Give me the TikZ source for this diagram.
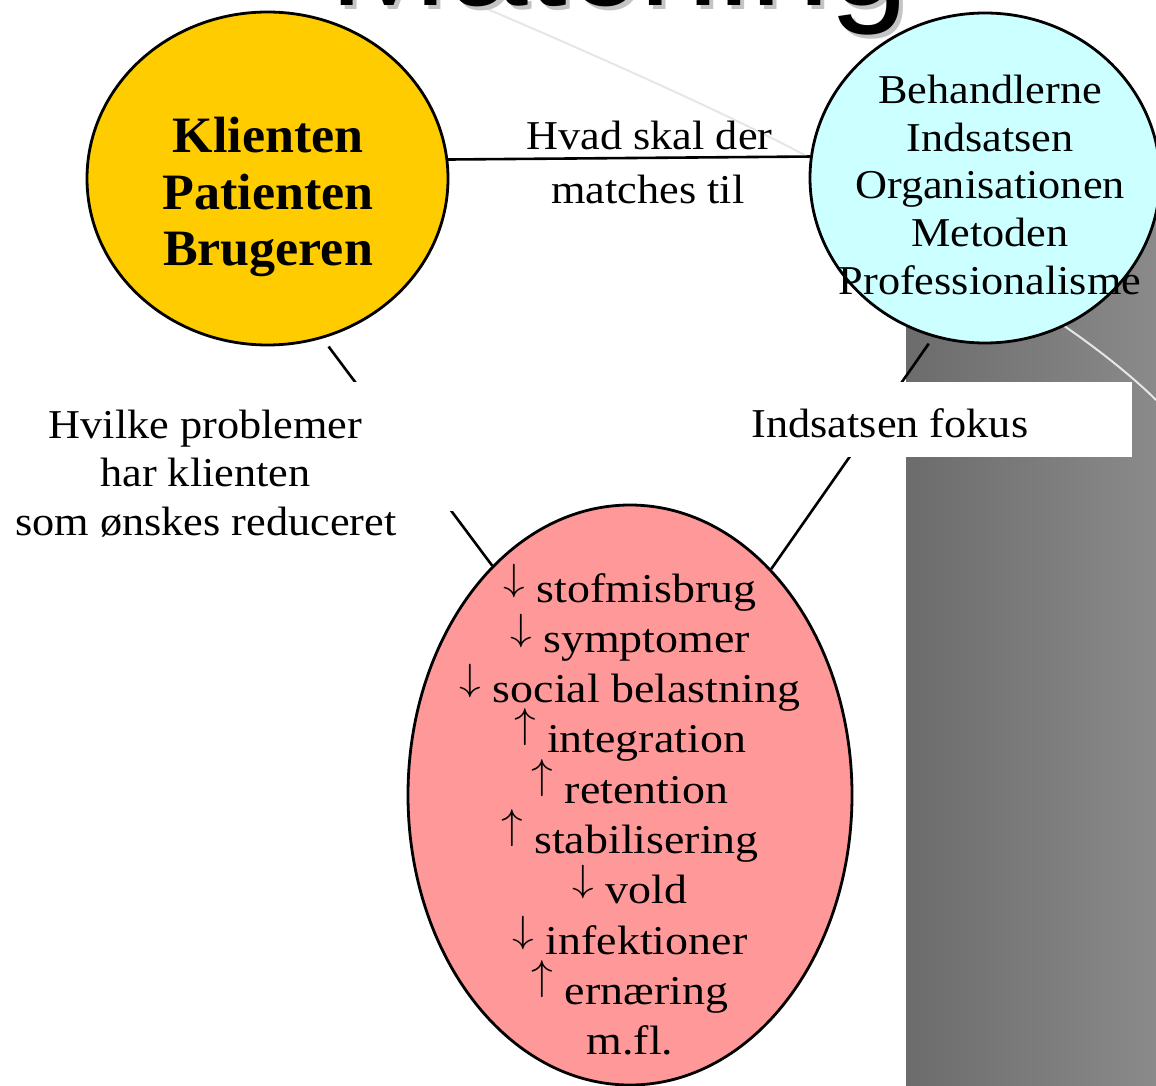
\documentclass[tikz,border=0pt]{standalone}
\usepackage{fontspec}
\setmainfont{Liberation Serif}
\newfontfamily\titlefont{Liberation Sans}
\usepackage{graphicx}
\usetikzlibrary{shapes.geometric}
\definecolor{yel}{HTML}{FFCC00}
\definecolor{cyn}{HTML}{CCFFFF}
\definecolor{pnk}{HTML}{FF9999}
\definecolor{gdark}{HTML}{6C6C6C}
\definecolor{glight}{HTML}{8A8A8A}
\definecolor{arcgray}{HTML}{E6E6E6}
\definecolor{shadowgray}{HTML}{C4C4C4}
\newcommand\xs[2]{\scalebox{#1}[1]{#2}}
\newcommand\arrDn{\raisebox{12pt}{\scalebox{1.55}[1.52]{\fontsize{24.88}{25}\selectfont$\downarrow$}}}
\newcommand\arrUp{\raisebox{15pt}{\scalebox{1.55}[1.68]{\fontsize{24.88}{25}\selectfont$\uparrow$}}}
\begin{document}
\begin{tikzpicture}[x=1pt,y=-1pt,
  circ/.style={ellipse, draw=black, line width=2.8pt, inner sep=0pt},
  conn/.style={line width=2.6pt},
  mask/.style={fill=white, draw=none, inner sep=0pt},
  txt/.style={anchor=base, inner sep=0pt, font=\fontsize{41}{41}\selectfont},
  btxt/.style={anchor=base, inner sep=0pt, font=\bfseries\fontsize{51}{51}\selectfont},
  ttl/.style={anchor=base west, inner sep=0pt, font=\titlefont\fontsize{143}{143}\selectfont}]
\useasboundingbox (0,0) rectangle (1156,1086);
\clip (0,0) rectangle (1156,1086);
% background decoration
\shade[left color=gdark, right color=glight] (906,190) rectangle (1156,1086);
\draw[arcgray, line width=2pt] plot[smooth, tension=0.6] coordinates {(478,5) (810,158) (1070,330) (1156,400)};
% circles
\node[circ, fill=yel, minimum width=361pt, minimum height=333pt] (yellow) at (267.5,178.5) {};
\node[circ, fill=cyn, minimum width=350pt, minimum height=330pt] (cyan) at (985,178) {};
\node[circ, fill=pnk, minimum width=444pt, minimum height=580pt] (pink) at (630,795) {};
% title (cut off at the top)
\node[ttl, shadowgray] (titleshadow) at (333,10) {Matching};
\node[ttl, black] (title) at (329,6) {Matching};
% connectors
\draw[conn] (yellow.6.53) -- (cyan.173.43);
\draw[conn, shorten <=10pt] (yellow.289.7) -- (pink.121.9);
\draw[conn, shorten <=8pt] (cyan.252.4) -- (pink.58.1);
% label boxes masking the connectors
\node[mask, minimum width=472pt, minimum height=129pt] (lbox) at (226,446.5) {};
\node[mask, minimum width=484pt, minimum height=75pt] (rbox) at (890,419.5) {};
% yellow text
\node[btxt] (y1) at (268,153) {\xs{1.02}{Klienten}};
\node[btxt] (y2) at (268,209) {\xs{1.02}{Patienten}};
\node[btxt] (y3) at (268,265) {\xs{1.02}{Brugeren}};
% cyan text
\node[txt] (c1) at (990,104) {\xs{1.08}{Behandlerne}};
\node[txt] (c2) at (990,151.5) {\xs{1.08}{Indsatsen}};
\node[txt] (c3) at (990,199) {\xs{1.08}{Organisationen}};
\node[txt] (c4) at (990,246.5) {\xs{1.08}{Metoden}};
\node[txt] (c5) at (990,294) {\xs{1.08}{Professionalisme}};
% connector labels
\node[txt] (m1) at (649.5,150) {\xs{1.08}{Hvad skal der}};
\node[txt] (m2) at (648,204) {\xs{1.08}{matches til}};
\node[txt] (l1) at (205.5,438) {\xs{1.08}{Hvilke problemer}};
\node[txt] (l2) at (205.5,486.5) {\xs{1.08}{har klienten}};
\node[txt] (l3) at (206,535) {\xs{1.08}{som ønskes reduceret}};
\node[txt] (r1) at (890,437) {\xs{1.08}{Indsatsen fokus}};
% pink list
\foreach \t [count=\i] in {{\arrDn\ stofmisbrug},{\arrDn\ symptomer},{\arrDn\ social belastning},{\arrUp\ integration},{\arrUp\ retention},{\arrUp\ stabilisering},{\arrDn\ vold},{\arrDn\ infektioner},{\arrUp\ ernæring},{m.fl.}}
  \node[txt] (p\i) at ({630},{602+50.3*(\i-1)}) {\xs{1.12}{\t}};
\end{tikzpicture}
\end{document}
